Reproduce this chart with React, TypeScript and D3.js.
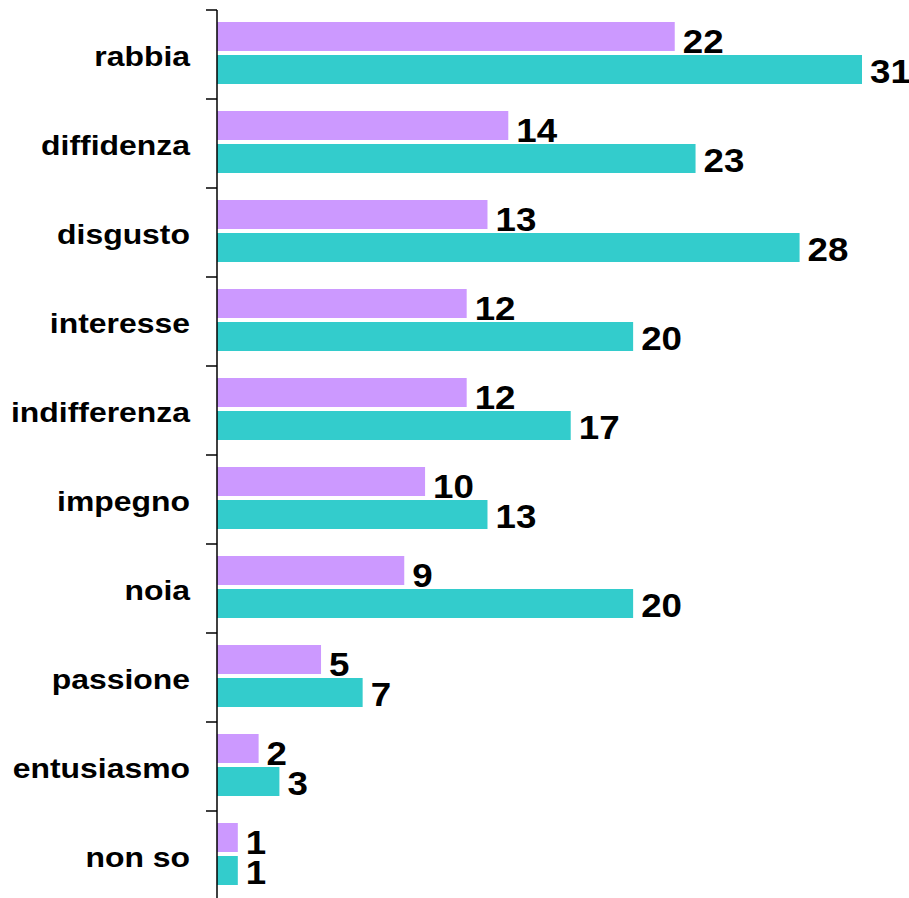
import React from "react";
import * as d3 from "d3";

const categories = ["rabbia", "diffidenza", "disgusto", "interesse", "indifferenza", "impegno", "noia", "passione", "entusiasmo", "non so"];
const seriesA = [22, 14, 13, 12, 12, 10, 9, 5, 2, 1];
const seriesB = [31, 23, 28, 20, 17, 13, 20, 7, 3, 1];
const colorA = "#CC99FF";
const colorB = "#33CCCC";

export default function App() {
  const W = 909, H = 898;
  const x = d3.scaleLinear().domain([0, 31]).range([217, 862]);
  const y = d3.scaleBand<string>().domain(categories).range([10, 900]).padding(0);
  const bw = y.bandwidth();
  const barH = 29;
  const font = "'Liberation Sans', Arial, sans-serif";
  return (
    <svg width={W} height={H} style={{ position: "absolute", left: 0, top: 0, background: "#fff" }}>
      {categories.map((c, i) => {
        const y0 = y(c)!;
        const xa = x(seriesA[i]);
        const xb = x(seriesB[i]);
        return (
          <g key={c}>
            <rect x={x(0)} y={y0 + 12} width={xa - x(0)} height={barH} fill={colorA} />
            <rect x={x(0)} y={y0 + 45} width={xb - x(0)} height={barH} fill={colorB} />
            <text transform={`translate(${xa + 8},${y0 + 12 + barH + 2}) scale(1.08,1)`} fontFamily={font} fontWeight="bold" fontSize={34} fill="#000">{seriesA[i]}</text>
            <text transform={`translate(${xb + 8},${y0 + 45 + barH - 1}) scale(1.08,1)`} fontFamily={font} fontWeight="bold" fontSize={34} fill="#000">{seriesB[i]}</text>
            <text transform={`translate(190,${y0 + bw / 2 + 11}) scale(1.12,1)`} textAnchor="end" fontFamily={font} fontWeight="bold" fontSize={28.5} fill="#000">{c}</text>
          </g>
        );
      })}
      {categories.concat(["__end"]).map((c, i) => {
        const ty = 10 + i * bw;
        return <line key={"t" + i} x1={206} x2={217} y1={ty} y2={ty} stroke="#000" strokeWidth={1.5} />;
      })}
      <line x1={217} x2={217} y1={10} y2={900} stroke="#000" strokeWidth={1.5} />
    </svg>
  );
}
